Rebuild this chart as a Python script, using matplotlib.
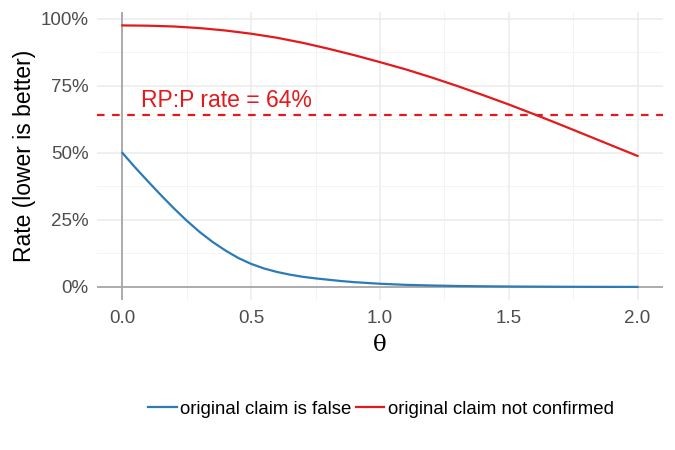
import matplotlib
matplotlib.use("Agg")
import matplotlib.pyplot as plt
from matplotlib.ticker import FuncFormatter, MultipleLocator

plt.rcParams['font.family'] = ['Liberation Sans', 'DejaVu Sans']

# values
theta_false = [0.0, 0.05, 0.1, 0.15, 0.2, 0.25, 0.3, 0.35, 0.4, 0.45, 0.5, 0.55,
               0.6, 0.65, 0.7, 0.75, 0.8, 0.85, 0.9, 0.95, 1.0, 1.1, 1.2, 1.3,
               1.4, 1.5, 1.6, 1.7, 1.8, 1.9, 2.0]
claim_false = [0.50, 0.445, 0.393, 0.342, 0.293, 0.247, 0.205, 0.168, 0.136, 0.108,
               0.086, 0.069, 0.056, 0.046, 0.038, 0.032, 0.027, 0.022, 0.018, 0.015,
               0.012, 0.008, 0.0055, 0.0037, 0.0025, 0.0017, 0.0012, 0.0008, 0.0005,
               0.0003, 0.0002]
theta_nc = [0.0, 0.1, 0.2, 0.3, 0.4, 0.5, 0.6, 0.7, 0.8, 0.9, 1.0, 1.1, 1.2, 1.3,
            1.4, 1.5, 1.6, 1.7, 1.8, 1.9, 2.0]
not_confirmed = [0.976, 0.975, 0.972, 0.966, 0.957, 0.945, 0.930, 0.911, 0.889, 0.865,
                 0.839, 0.812, 0.782, 0.750, 0.716, 0.681, 0.644, 0.606, 0.567, 0.528,
                 0.489]
rpp_rate = 0.64

blue = '#2c7bb6'
red = '#e31a1c'

fig = plt.figure(figsize=(6.75, 4.5), dpi=100)
ax = fig.add_axes([0.1433, 0.3331, 0.8393, 0.6396])

ax.axhline(0, color='#a6a6a6', lw=1.3, zorder=1)
ax.axvline(0, color='#a6a6a6', lw=1.3, zorder=1)
ax.axhline(rpp_rate, color=red, lw=1.6, ls=(0, (3.4, 3.4)), zorder=2)
ax.plot(theta_false, claim_false, color=blue, lw=1.6, label='original claim is false', zorder=3)
ax.plot(theta_nc, not_confirmed, color=red, lw=1.6, label='original claim not confirmed', zorder=3)
ax.text(0.07, 0.672, 'RP:P rate = 64%', color=red, fontsize=16.5)

ax.set_xlim(-0.1, 2.1)
ax.set_ylim(-0.049, 1.025)
ax.xaxis.set_major_locator(MultipleLocator(0.5))
ax.xaxis.set_minor_locator(MultipleLocator(0.25))
ax.yaxis.set_major_locator(MultipleLocator(0.25))
ax.yaxis.set_minor_locator(MultipleLocator(0.125))
ax.xaxis.set_major_formatter(FuncFormatter(lambda v, p: '%.1f' % v))
ax.yaxis.set_major_formatter(FuncFormatter(lambda v, p: '%d%%' % round(v * 100)))
ax.grid(which='major', color='#ebebeb', lw=1.1)
ax.grid(which='minor', color='#f2f2f2', lw=0.6)
ax.set_axisbelow(True)
for s in ax.spines.values():
    s.set_visible(False)
ax.tick_params(which='both', length=0, labelsize=13.5, labelcolor='#4d4d4d')
ax.tick_params(axis='x', pad=7)
ax.tick_params(axis='y', pad=6)

ax.set_xlabel('θ', fontsize=16.5, family=['DejaVu Serif'], labelpad=5)
ax.set_ylabel('Rate (lower is better)', fontsize=16.5, labelpad=3)

fig.legend(loc='center', bbox_to_anchor=(0.5645, 0.091), ncol=2, frameon=False,
           fontsize=13.4, handlelength=1.55, handletextpad=0.2, columnspacing=0.2)

fig.savefig('out.png', dpi=100)
